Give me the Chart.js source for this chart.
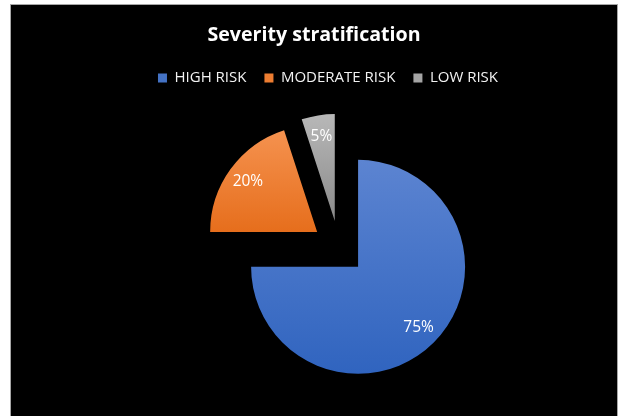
<!DOCTYPE html>
<html><head><meta charset="utf-8">
<script src="https://cdn.jsdelivr.net/npm/chart.js@4.4.1/dist/chart.umd.min.js"></script>
<style>
html,body{margin:0;padding:0;background:#fff;}
#box{position:absolute;left:10px;top:4px;width:608px;height:412px;box-sizing:border-box;border:1px solid #a6a6a6;border-bottom:none;background:#000;}
canvas{display:block;}
</style></head><body>
<div id="box"><canvas id="c" width="606" height="411"></canvas></div>
<script>
const chartTitle = 'Severity stratification';
const categories = ['HIGH RISK', 'MODERATE RISK', 'LOW RISK'];
const values = [75, 20, 5];

const gradTops = { 0: '#5c84d1', 1: '#f5924f', 2: '#b8b8b8' };
const gradBottoms = { 0: '#3064bf', 1: '#e66e1c', 2: '#8a8a8a' };

const leftSpacer = {
  id: 'leftSpacer',
  beforeInit(chart) {
    Chart.layouts.addBox(chart, {
      position: 'left', fullSize: false, weight: 0,
      options: {},
      width: 0, height: 0, left: 0, top: 0, right: 0, bottom: 0,
      isHorizontal() { return false; },
      update(maxW, maxH) { this.width = 50; this.height = maxH; },
      draw() {}
    });
  }
};

const legendShift = {
  id: 'legendShift',
  afterLayout(chart, args, opts) {
    if (chart.legend) { chart.legend.left += opts.dx; chart.legend.right += opts.dx; }
  }
};

// Exploded pie: move each slice outward along its mid angle
const explode = {
  id: 'explode',
  afterDatasetsUpdate(chart, args, opts) {
    const meta = chart.getDatasetMeta(0);
    meta.data.forEach((arc) => {
      const h = (arc.startAngle + arc.endAngle) / 2;
      arc.x += Math.cos(h) * opts.distance;
      arc.y += Math.sin(h) * opts.distance;
    });
  }
};

const sliceGradients = {
  id: 'sliceGradients',
  beforeDatasetsDraw(chart) {
    const ctx = chart.ctx;
    const meta = chart.getDatasetMeta(0);
    meta.data.forEach((arc, i) => {
      const cy = arc.y, r = arc.outerRadius;
      const ys = [cy, cy + Math.sin(arc.startAngle) * r, cy + Math.sin(arc.endAngle) * r];
      for (let k = -2; k <= 2; k++) {
        const top = -Math.PI / 2 + 2 * Math.PI * k, bot = Math.PI / 2 + 2 * Math.PI * k;
        if (top >= arc.startAngle && top <= arc.endAngle) ys.push(cy - r);
        if (bot >= arc.startAngle && bot <= arc.endAngle) ys.push(cy + r);
      }
      const g = ctx.createLinearGradient(0, Math.min(...ys), 0, Math.max(...ys));
      g.addColorStop(0, gradTops[i]);
      g.addColorStop(1, gradBottoms[i]);
      arc.options = Object.assign({}, arc.options, { backgroundColor: g });
    });
  }
};

const sliceLabels = {
  id: 'sliceLabels',
  afterDatasetsDraw(chart) {
    const ctx = chart.ctx;
    const meta = chart.getDatasetMeta(0);
    const total = values.reduce((a, b) => a + b, 0);
    ctx.save();
    ctx.font = '15.5px "Open Sans"';
    ctx.fillStyle = '#ffffff';
    ctx.textAlign = 'center';
    ctx.textBaseline = 'middle';
    meta.data.forEach((arc, i) => {
      const h = (arc.startAngle + arc.endAngle) / 2;
      const d = arc.outerRadius * 0.8;
      const x = arc.x + Math.cos(h) * d;
      const y = arc.y + Math.sin(h) * d;
      ctx.fillText(Math.round(values[i] / total * 100) + '%', x, y);
    });
    ctx.restore();
  }
};

new Chart(document.getElementById('c'), {
  type: 'pie',
  data: {
    labels: categories,
    datasets: [{
      data: values,
      backgroundColor: ['#4472c4', '#ed7d31', '#a5a5a5'],
      borderWidth: 0,
      hoverOffset: 0
    }]
  },
  options: {
    responsive: false,
    animation: false,
    events: [],
    radius: 107,
    layout: { padding: { top: 0, bottom: 16, left: 0, right: 0 } },
    plugins: {
      explode: { distance: 27 },
      legendShift: { dx: 14 },
      title: {
        display: true,
        text: chartTitle,
        color: '#ffffff',
        font: { family: '"Open Sans"', size: 19.6, weight: 'bold', lineHeight: 1.2 },
        padding: { top: 19, bottom: 5 }
      },
      legend: {
        display: true,
        position: 'top',
        labels: {
          color: '#f2f2f2',
          font: { family: '"Open Sans"', size: 15 },
          boxWidth: 9,
          boxHeight: 9,
          padding: 18
        }
      },
      tooltip: { enabled: false }
    }
  },
  plugins: [leftSpacer, legendShift, explode, sliceGradients, sliceLabels]
});
</script>
</body></html>
